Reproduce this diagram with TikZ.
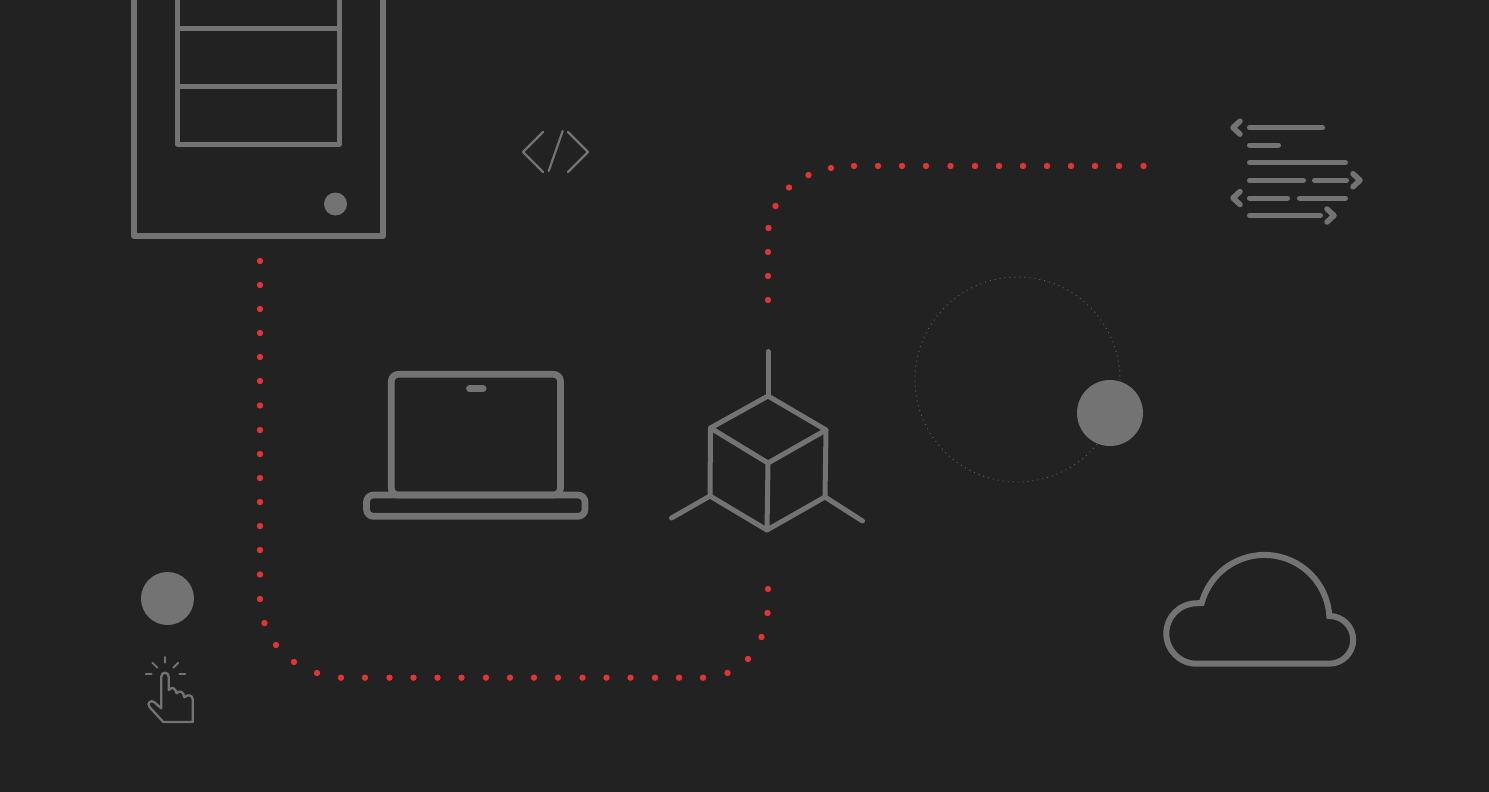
\documentclass[tikz,border=0pt]{standalone}
\usepackage{tikz}
\usetikzlibrary{positioning}
\definecolor{bgdark}{HTML}{222222}
\definecolor{icongray}{HTML}{737373}
\definecolor{dotred}{HTML}{E03535}
\begin{document}
\begin{tikzpicture}[x=1pt,y=-1pt]
    \tikzstyle{every node}=[circle,inner sep=0,draw=none]
    \tikzstyle{reddot}=[fill=dotred,minimum size=6.4]
    \tikzstyle{graydot}=[fill=icongray]
    \tikzstyle{icon}=[draw=icongray,line width=5,line join=round,line cap=round]
    \tikzstyle{thinicon}=[icon,line width=2.2]
    \tikzstyle{orbit}=[draw=icongray!75!bgdark,line width=0.9,dash pattern=on 1 off 4]
    \fill[bgdark,use as bounding box] (0,0) rectangle (1489,792);

    \draw[icon,line width=6,line cap=butt] (134,-10) -- (134,236) -- (383,236) -- (383,-10);
    \draw[icon,line cap=butt] (177.5,-10) -- (177.5,144) -- (339.5,144) -- (339.5,-10);
    \draw[icon,line cap=butt] (177.5,28.5) -- (339.5,28.5);
    \draw[icon,line cap=butt] (177.5,86.5) -- (339.5,86.5);
    \node[graydot,minimum size=23] (serverled) at (335.5,204) {};

    \draw[icon,line width=6.7,rounded corners=7] (391.3,374.3) rectangle (560.5,495);
    \draw[icon,line width=6.7,rounded corners=7] (366.5,495) rectangle (585,516.3);
    \draw[icon,line width=7] (469.5,388.7) -- (483,388.7);

    \draw[thinicon] (543,132) -- (523,152) -- (543,172);
    \draw[thinicon] (562.7,131) -- (548.7,171);
    \draw[thinicon] (568,132) -- (588,152) -- (568,172);

    \coordinate (cubetop) at (768,396);
    \coordinate (cuberight) at (826,430);
    \coordinate (cubeleft) at (710.5,428);
    \coordinate (cubemid) at (768,463);
    \coordinate (cubebl) at (710,496);
    \coordinate (cubebr) at (825,497);
    \coordinate (cubebot) at (767,530);
    \draw[icon] (cubetop) -- (cuberight) -- (cubemid) -- (cubeleft) -- cycle;
    \draw[icon] (cubeleft) -- (cubebl) -- (cubebot) -- (cubebr) -- (cuberight);
    \draw[icon] (cubemid) -- (cubebot);
    \draw[icon] (cubetop) -- (768,351.5);
    \draw[icon] (cubebl) -- (671.5,518);
    \draw[icon] (cubebr) -- (862.5,521);

    \draw[orbit] (1017.5,379.5) circle (102.5);
    \node[graydot,minimum size=66] (planet) at (1110,413) {};
    \node[graydot,minimum size=53] (tapdot) at (167.5,598.5) {};

    \draw[icon,line width=6,line join=miter] (1201.7,603) arc (195.1:356.5:65) arc (270:450:23.85) -- (1196.5,663.7) arc (90:270:30.2) -- cycle;

    \foreach \y/\xa/\xb in {127.7/1249.5/1322.5,145/1249.5/1278.5,162.5/1249.5/1345.5,180.3/1249.5/1303.5,180.3/1314.5/1346.5,198/1249.5/1287.5,198/1299.5/1345.5,215.5/1249.5/1320.5}
        \draw[icon] (\xa,\y) -- (\xb,\y);
    \foreach \x/\y/\d in {1240/127.7/-1,1240/198/-1,1353/180.3/1,1327/215.5/1}
        \draw[icon,line width=5.5] (\x,\y-6.5) -- (\x+\d*7,\y) -- (\x,\y+6.5);

    \foreach \xa/\ya/\xb/\yb in {165/657/165/662.7,152.3/662.7/157.3/667.7,178.3/662.7/173.3/667.7,145.7/674.3/151.7/674.3,179.3/674.3/185.3/674.3}
        \draw[thinicon,line width=1.8] (\xa,\ya) -- (\xb,\yb);
    \draw[thinicon,line width=2.3] (161.3,708.3) -- (161.3,676.7)
        .. controls (161.3,671.5) and (168.7,671.5) .. (168.7,676.7) -- (168.7,690)
        .. controls (172,686.5) and (175.5,688) .. (176.7,693.3)
        .. controls (179.5,690) and (183.5,691) .. (184.3,697.3)
        .. controls (187.5,694) and (192.7,695) .. (192.7,699.3) -- (192.7,722) -- (163.3,722) -- (149.5,707)
        .. controls (146.5,703) and (151,699.5) .. (154,702) -- cycle;

    \foreach \y [count=\i] in {261,285,309,333,357,381,405.5,430,454,478,502,526,550,574.5,599}
        \node[reddot] (lane\i) at (260,\y) {};
    \foreach \x/\y [count=\i] in {264.5/623,276/645,294/662,317/673}
        \node[reddot] (bendb\i) at (\x,\y) {};
    \foreach \x [count=\i] in {341,365,389.5,413.5,437.5,461.5,486,510,534,558,582.5,606.5,630.5,655,679,703}
        \node[reddot] (base\i) at (\x,677.7) {};
    \foreach \x/\y [count=\i] in {727.5/673,748/659,761.5/637,767.5/613,768/589,768/300,768/276,768/252,768.5/228,775.5/206,789/187.5,808.5/175,831/168}
        \node[reddot] (riser\i) at (\x,\y) {};
    \foreach \x [count=\i] in {854,878,902,926,950.5,975,999,1023,1047,1071,1095,1119,1143.5}
        \node[reddot] (top\i) at (\x,166) {};
\end{tikzpicture}
\end{document}
